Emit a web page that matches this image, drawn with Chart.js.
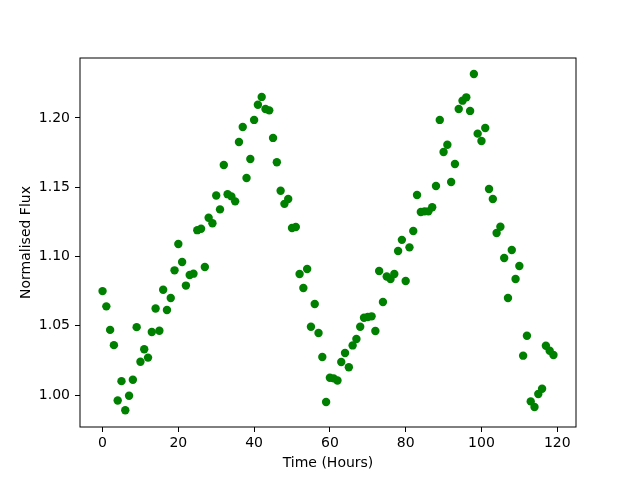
<!DOCTYPE html>
<html>
<head>
<meta charset="utf-8">
<script src="https://cdn.jsdelivr.net/npm/chart.js@4/dist/chart.umd.min.js"></script>
<style>
  html, body { margin: 0; padding: 0; background: #fff; }
  #wrap { width: 640px; height: 480px; }
</style>
</head>
<body>
<div id="wrap"><canvas id="myChart" width="640" height="480"></canvas></div>
<script>
// hours 0..119, flux
const hours = [];
for (let i = 0; i < 120; i += 1) { hours.push(i); }

const flux = [
  1.075, 1.064, 1.047, 1.036, 0.996, 1.010, 0.989, 0.9995, 1.011, 1.049,
  1.024, 1.033, 1.027, 1.0455, 1.0625, 1.0464, 1.076, 1.0614, 1.070, 1.090,
  1.109, 1.096, 1.079, 1.0866, 1.0876, 1.119, 1.120, 1.0924, 1.128, 1.124,
  1.144, 1.134, 1.166, 1.145, 1.1434, 1.1398, 1.1827, 1.1935, 1.1567, 1.1704,
  1.1986, 1.2095, 1.2152, 1.2065, 1.2055, 1.1856, 1.168, 1.1475, 1.138, 1.1415,
  1.1206, 1.1213, 1.0874, 1.0773, 1.091, 1.0493, 1.0657, 1.0448, 1.0274, 0.995,
  1.0125, 1.012, 1.0105, 1.0238, 1.0303, 1.020, 1.0358, 1.0404, 1.0493, 1.0558,
  1.0563, 1.0568, 1.0462, 1.0895, 1.0671, 1.0856, 1.0838, 1.0874, 1.104, 1.112,
  1.0823, 1.1066, 1.1184, 1.1444, 1.1321, 1.1326, 1.1326, 1.1355, 1.1509, 1.1986,
  1.1754, 1.1807, 1.1538, 1.1668, 1.2065, 1.2125, 1.2149, 1.2051, 1.2318, 1.1887,
  1.1834, 1.1928, 1.1487, 1.1415, 1.117, 1.1215, 1.0989, 1.070, 1.1047, 1.0837,
  1.0931, 1.0284, 1.0428, 0.9954, 0.9913, 1.0007, 1.0045, 1.0356, 1.032, 1.0289
];

const xTicks = [0, 20, 40, 60, 80, 100, 120];
const yTicks = [1.00, 1.05, 1.10, 1.15, 1.20];

let points = [];
for (let i = 0; i < hours.length; i += 1) {
    points.push({ x: hours[i], y: flux[i] });
}

// box round the plot area, like the matplotlib spines
const frame = {
    id: 'frame',
    afterDraw(chart) {
        const a = chart.chartArea;
        const c = chart.ctx;
        c.save();
        c.strokeStyle = '#000';
        c.lineWidth = 1;
        c.strokeRect(a.left, a.top, a.right - a.left, a.bottom - a.top);
        c.restore();
    }
};

const tickFont = { family: 'DejaVu Sans', size: 14 };

const ctx = document.getElementById('myChart').getContext('2d');
const myChart = new Chart(ctx, {
    type: 'scatter',
    data: {
        datasets: [{
            data: points,
            backgroundColor: '#008000',
            borderWidth: 0,
            pointRadius: 4.2,
            pointHoverRadius: 4.2
        }]
    },
    options: {
        responsive: false,
        animation: false,
        events: [],
        layout: { padding: { top: 58, right: 64, bottom: 0, left: 0 } },
        plugins: { legend: { display: false }, tooltip: { enabled: false } },
        scales: {
            x: {
                min: -5.95,
                max: 124.95,
                afterBuildTicks: (scale) => { scale.ticks = xTicks.map(v => ({ value: v })); },
                afterFit: (scale) => { scale.height = 53; },
                grid: { drawOnChartArea: false, drawTicks: true, tickLength: 5, color: '#000' },
                border: { display: false },
                ticks: { color: '#000', font: tickFont, padding: 3, maxRotation: 0 },
                title: { display: true, text: 'Time (Hours)', color: '#000', font: tickFont, padding: { top: 4, bottom: 8.6 } }
            },
            y: {
                min: 0.9769,
                max: 1.2433,
                afterBuildTicks: (scale) => { scale.ticks = yTicks.map(v => ({ value: v })); },
                afterFit: (scale) => { scale.width = 80; },
                grid: { drawOnChartArea: false, drawTicks: true, tickLength: 5, color: '#000' },
                border: { display: false },
                ticks: { color: '#000', font: tickFont, padding: 5, callback: (v) => Number(v).toFixed(2) },
                title: { display: true, text: 'Normalised Flux', color: '#000', font: tickFont, padding: { top: 17.6, bottom: 4 } }
            }
        }
    },
    plugins: [frame]
});
</script>
</body>
</html>
